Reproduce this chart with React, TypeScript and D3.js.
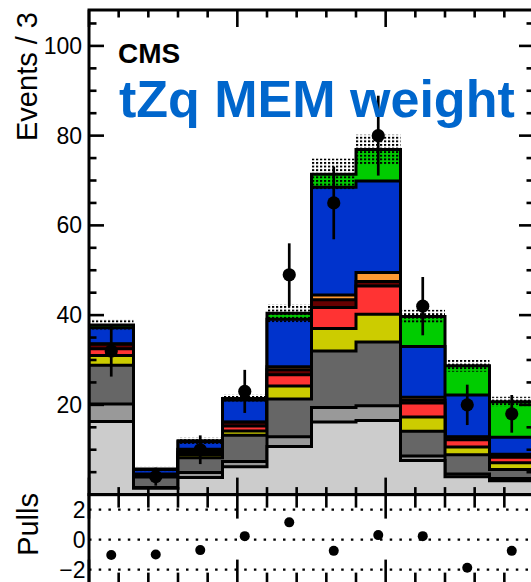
import React from 'react';
import * as d3 from 'd3';

// Bin edges of the MEM-weight discriminant (10 bins)
const binEdges = [0, 3, 6, 9, 12, 15, 18, 21, 24, 27, 30];

// Stacked background / signal contributions per bin (bottom to top)
const lightGray = [16.3, 1.4, 3.8, 6.2, 10.7, 16.2, 16.5, 7.6, 4.0, 3.1];
const midGray = [3.9, 0.2, 1.1, 1.2, 2.2, 3.2, 3.3, 1.0, 0.6, 0.5];
const darkGray = [8.6, 2.3, 3.3, 5.8, 8.4, 12.6, 14.2, 5.5, 4.3, 2.0];
const yellow = [2.2, 0.2, 0.7, 1.0, 2.9, 5.0, 6.2, 3.2, 1.7, 1.5];
const red = [1.5, 0.2, 0.5, 1.1, 2.5, 4.7, 6.3, 3.1, 1.6, 1.2];
const darkRed = [1.0, 0.2, 0.6, 0.8, 1.1, 1.7, 1.0, 0.6, 0.6, 0.6];
const orange = [0.1, 0.1, 0.1, 0.1, 0.7, 1.1, 2.0, 0.7, 0.1, 0.1];
const blue = [3.6, 1.0, 1.7, 4.9, 10.6, 24.0, 20.4, 11.3, 9.3, 3.8];
const green = [0.6, 0.1, 0.2, 0.3, 1.3, 2.9, 7.0, 6.7, 6.5, 7.9];

// Half-width of the total uncertainty band
const bandHalf = [1.3, 0.5, 0.7, 0.9, 2.0, 3.5, 3.3, 1.5, 1.3, 1.1];

// Observed data with statistical errors
const dataCounts = [32, 4, 10, 23, 49, 65, 80, 42, 20, 18];
const dataErrors = [5.7, 2.0, 3.2, 4.8, 7.0, 8.1, 8.9, 6.5, 4.5, 4.2];

// Pulls per bin
const pulls = [-1.03, -0.99, -0.7, 0.23, 1.15, -0.75, 0.3, 0.23, -1.88, -0.75];

// Axis tick labels
const yTickLabels = [20, 40, 60, 80, 100];
const pullTickLabels = [2, 0, -2];

const stackLayers = [
  { values: lightGray, color: '#cccccc' },
  { values: midGray, color: '#999999' },
  { values: darkGray, color: '#666666' },
  { values: yellow, color: '#cccc00' },
  { values: red, color: '#ff3333' },
  { values: darkRed, color: '#660000' },
  { values: orange, color: '#ff9933' },
  { values: blue, color: '#0033cc' },
  { values: green, color: '#00cc00' },
];

const W = 531;
const H = 582;
const left = 89;
const right = 534;
const top = 10;
const mainBottom = 494.6;
const pullBottom = 584.6;
const FONT = '"Liberation Sans", Arial, Helvetica, sans-serif';

export default function App() {
  const x = d3.scaleLinear().domain([0, 30]).range([left, right]);
  const y = d3.scaleLinear().domain([0, 108]).range([mainBottom, top]);
  const yp = d3.scaleLinear().domain([-3, 3]).range([pullBottom, mainBottom]);

  const nBins = binEdges.length - 1;
  // cumulative tops
  const cumulative: number[][] = [];
  stackLayers.forEach((layer, li) => {
    cumulative.push(
      layer.values.map((v, i) => (li === 0 ? 0 : cumulative[li - 1][i]) + v)
    );
  });
  const total = cumulative[cumulative.length - 1];

  const area = d3
    .area<[number, number]>()
    .curve(d3.curveStepAfter)
    .x((d) => x(d[0]))
    .y0(y(0))
    .y1((d) => y(d[1]));

  const stepPts = (vals: number[]): [number, number][] => {
    const pts: [number, number][] = vals.map((v, i) => [binEdges[i], v]);
    pts.push([binEdges[nBins], vals[nBins - 1]]);
    return pts;
  };

  const centers = d3.range(nBins).map((i) => (binEdges[i] + binEdges[i + 1]) / 2);

  const xMinor = d3.range(0, 31, 2).filter((v) => v % 10 !== 0);
  const xMajor = [0, 10, 20, 30];
  const yMinor = d3.range(0, 108, 5).filter((v) => v % 20 !== 0);
  const yMajor = d3.range(0, 101, 20);

  const tick = { stroke: '#000', strokeWidth: 2.6 };

  return (
    <svg
      width={W}
      height={H}
      style={{ position: 'absolute', left: 0, top: 0, background: '#fff' }}
      fontFamily={FONT}
    >
      <defs>
        <pattern id="unc" width={4} height={3.6} patternUnits="userSpaceOnUse">
          <rect x={0} y={0} width={2.2} height={1.9} fill="#000" />
        </pattern>
        <clipPath id="mainClip">
          <rect x={left} y={top} width={right - left} height={mainBottom - top} />
        </clipPath>
      </defs>

      {/* stacked histograms, drawn from the total downwards */}
      <g clipPath="url(#mainClip)">
        {stackLayers
          .map((layer, li) => ({ layer, li }))
          .reverse()
          .map(({ layer, li }) => (
            <path
              key={li}
              d={area(stepPts(cumulative[li])) || ''}
              fill={layer.color}
              stroke="#000"
              strokeWidth={3}
              strokeLinejoin="miter"
            />
          ))}
        {/* uncertainty band */}
        {total.map((t, i) => (
          <rect
            key={i}
            x={x(binEdges[i])}
            width={x(binEdges[i + 1]) - x(binEdges[i])}
            y={y(t + bandHalf[i])}
            height={y(t - bandHalf[i]) - y(t + bandHalf[i])}
            fill="url(#unc)"
          />
        ))}
      </g>

      {/* main frame and ticks */}
      <rect
        x={left}
        y={top}
        width={right - left}
        height={mainBottom - top}
        fill="none"
        stroke="#000"
        strokeWidth={3}
      />
      {xMinor.map((v) => (
        <g key={'xm' + v}>
          <line x1={x(v)} x2={x(v)} y1={mainBottom} y2={mainBottom - 7.5} {...tick} />
          <line x1={x(v)} x2={x(v)} y1={top} y2={top + 7.5} {...tick} />
        </g>
      ))}
      {xMajor.map((v) => (
        <g key={'xM' + v}>
          <line x1={x(v)} x2={x(v)} y1={mainBottom} y2={mainBottom - 17} {...tick} />
          <line x1={x(v)} x2={x(v)} y1={top} y2={top + 17} {...tick} />
        </g>
      ))}
      {yMinor.map((v) => (
        <g key={'ym' + v}>
          <line x1={left} x2={left + 7.5} y1={y(v)} y2={y(v)} {...tick} />
          <line x1={right} x2={right - 7.5} y1={y(v)} y2={y(v)} {...tick} />
        </g>
      ))}
      {yMajor.map((v) => (
        <g key={'yM' + v}>
          <line x1={left} x2={left + 15} y1={y(v)} y2={y(v)} {...tick} />
          <line x1={right} x2={right - 15} y1={y(v)} y2={y(v)} {...tick} />
        </g>
      ))}
      {yTickLabels.map((v) => (
        <text
          key={'yl' + v}
          x={82}
          y={y(v)}
          dy="0.35em"
          textAnchor="end"
          fontSize={23}
          fill="#000"
        >
          {v}
        </text>
      ))}
      <text
        transform={`translate(37,12) rotate(-90)`}
        textAnchor="end"
        fontSize={29}
        fill="#000"
      >
        Events / 3
      </text>

      {/* data points */}
      {dataCounts.map((n, i) => (
        <g key={'d' + i}>
          <line
            x1={x(centers[i])}
            x2={x(centers[i])}
            y1={y(n + dataErrors[i])}
            y2={y(n - dataErrors[i])}
            stroke="#000"
            strokeWidth={2.7}
          />
          <circle cx={x(centers[i])} cy={y(n)} r={6.6} fill="#000" />
        </g>
      ))}

      <text x={118} y={63} fontSize={28} fontWeight="bold" fill="#000">
        CMS
      </text>
      <text x={119} y={117} fontSize={52} fontWeight="bold" fill="#0066cc">
        tZq MEM weight
      </text>

      {/* pulls panel */}
      {pullTickLabels.map((v) => (
        <line
          key={'pl' + v}
          x1={left}
          x2={right}
          y1={yp(v)}
          y2={yp(v)}
          stroke="#000"
          strokeWidth={2.2}
          strokeDasharray="2.5 7.2"
        />
      ))}
      <rect
        x={left}
        y={mainBottom}
        width={right - left}
        height={pullBottom - mainBottom}
        fill="none"
        stroke="#000"
        strokeWidth={3}
      />
      {xMinor.map((v) => (
        <g key={'pxm' + v}>
          <line x1={x(v)} x2={x(v)} y1={mainBottom} y2={mainBottom + 13} {...tick} />
          <line x1={x(v)} x2={x(v)} y1={pullBottom} y2={pullBottom - 12} {...tick} />
        </g>
      ))}
      {xMajor.map((v) => (
        <g key={'pxM' + v}>
          <line x1={x(v)} x2={x(v)} y1={mainBottom} y2={mainBottom + 24} {...tick} />
          <line x1={x(v)} x2={x(v)} y1={pullBottom} y2={pullBottom - 25} {...tick} />
        </g>
      ))}
      {pullTickLabels.map((v) => (
        <text
          key={'ptl' + v}
          x={85.5}
          y={yp(v)}
          dy="0.35em"
          textAnchor="end"
          fontSize={23}
          fill="#000"
        >
          {v < 0 ? '\u2212' + Math.abs(v) : v}
        </text>
      ))}
      <text
        transform={`translate(38,493) rotate(-90)`}
        textAnchor="end"
        fontSize={29}
        fill="#000"
      >
        Pulls
      </text>
      {pulls.map((p, i) => (
        <circle key={'p' + i} cx={x(centers[i])} cy={yp(p)} r={5} fill="#000" />
      ))}
    </svg>
  );
}
